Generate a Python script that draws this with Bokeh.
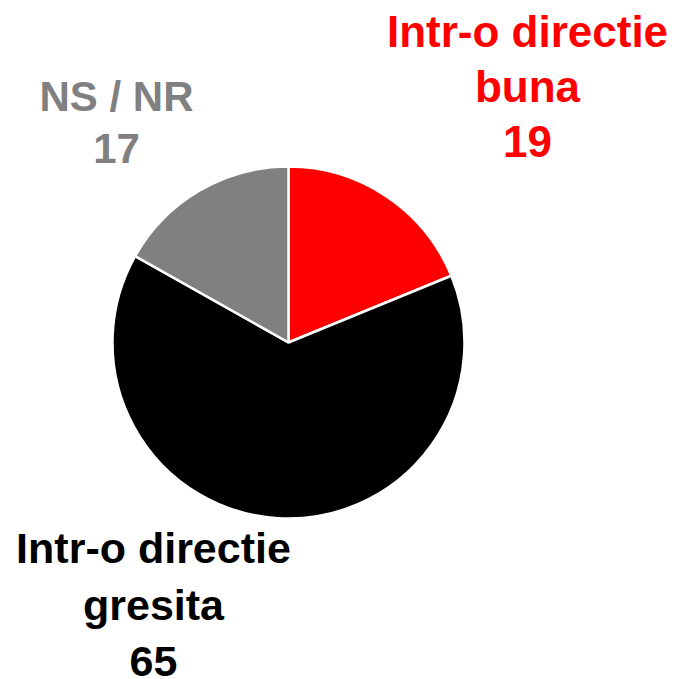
import numpy as np
from bokeh.plotting import figure
from bokeh.models import ColumnDataSource
from bokeh.core.properties import value
from bokeh.embed import file_html
from bokeh.resources import INLINE

# Data
categories = ["Intr-o directie buna", "Intr-o directie gresita", "NS / NR"]
label_lines = [["Intr-o directie", "buna"], ["Intr-o directie", "gresita"], ["NS / NR"]]
values = [19, 65, 17]
colors = ["#FF0000", "#000000", "#808080"]

W, H = 675, 679
p = figure(width=W, height=H, x_range=(0, W), y_range=(0, H),
           output_backend="svg", toolbar_location=None, min_border=0)
p.axis.visible = False
p.grid.visible = False
p.outline_line_color = None
p.background_fill_color = "white"

TEXT_SHIFT = 16  # renderer places alphabetic baseline lower than requested

def px(ix):
    return ix

def py(iy):
    return H - iy

total = float(sum(values))
cum = np.concatenate([[0], np.cumsum(values)])
start = [np.pi / 2 - 2 * np.pi * cum[i + 1] / total for i in range(len(values))]
end = [np.pi / 2 - 2 * np.pi * cum[i] / total for i in range(len(values))]

src = ColumnDataSource(dict(start=start, end=end, color=colors, cat=categories, val=values))
p.wedge(x=px(288), y=py(342), radius=176, start_angle="start", end_angle="end",
        direction="anticlock", fill_color="color", line_color="white", line_width=2.5, source=src)

# label layout: (center x, list of baselines, font size) in image pixels
layout = [
    (527, [46.5, 101.5, 156.5], "44px"),
    (153, [563.5, 620, 676.5], "43px"),
    (116, [111.5, 163.5], "42px"),
]

for (cx, bases, fs), lines, v, c in zip(layout, label_lines, values, colors):
    texts = lines + [str(v)]
    p.text(x=[px(cx)] * len(texts), y=[py(b - TEXT_SHIFT) for b in bases], text=texts,
           text_color=c, text_font=value("Liberation Sans"), text_font_style="bold",
           text_font_size=fs, text_align="center", text_baseline="alphabetic")

open("out.html", "w").write(file_html(p, INLINE))
